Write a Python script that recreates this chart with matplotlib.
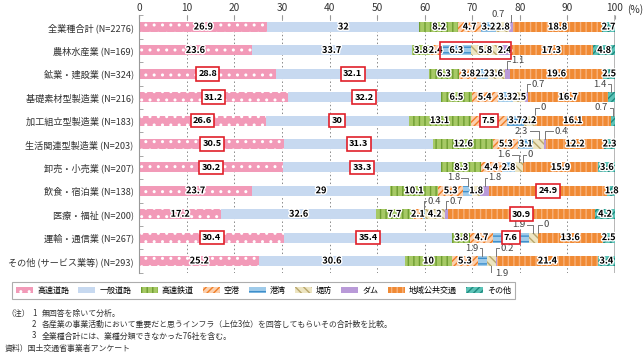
import numpy as np
import matplotlib
matplotlib.use('Agg')
import matplotlib.pyplot as plt
from matplotlib.patches import Patch, Rectangle
import matplotlib.patheffects as pe

plt.rcParams['font.family'] = ['Noto Sans CJK JP', 'DejaVu Sans']
plt.rcParams['hatch.linewidth'] = 1.0

# data
industries = ['全業種合計', '農林水産業', '鉱業・建設業', '基礎素材型製造業', '加工組立型製造業',
              '生活関連型製造業', '卸売・小売業', '飲食・宿泊業', '医療・福祉', '運輸・通信業',
              'その他 (サービス業等)']
n_counts = [2276, 169, 324, 216, 183, 203, 207, 138, 200, 267, 293]
series = ['高速道路', '一般道路', '高速鉄道', '空港', '港湾', '堤防', 'ダム', '地域公共交通', 'その他']

kousoku_douro = [26.9, 23.6, 28.8, 31.2, 26.6, 30.5, 30.2, 23.7, 17.2, 30.4, 25.2]
ippan_douro = [32, 33.7, 32.1, 32.2, 30, 31.3, 33.3, 29, 32.6, 35.4, 30.6]
kousoku_tetsudo = [8.2, 3.8, 6.3, 6.5, 13.1, 12.6, 8.3, 10.1, 7.7, 3.8, 10]
kuukou = [4.7, 2.4, 3.8, 5.4, 7.5, 5.3, 4.4, 5.3, 2.1, 4.7, 5.3]
kouwan = [3.2, 6.3, 2.2, 3.3, 3.7, 3.1, 2.8, 1.8, 0.4, 7.6, 1.9]
teibou = [2.8, 5.8, 3.6, 2.5, 2.2, 2.3, 1.6, 1.8, 4.2, 1.9, 1.9]
dam = [0.7, 2.4, 1.1, 0.7, 0, 0.4, 0, 1.8, 0.7, 0, 0.2]
chiiki_koukyou = [18.8, 17.3, 19.6, 16.7, 16.1, 12.2, 15.9, 24.9, 30.9, 13.6, 21.4]
sonota = [2.7, 4.8, 2.5, 1.4, 0.7, 2.3, 3.6, 1.8, 4.2, 2.5, 3.4]

values = np.array([kousoku_douro, ippan_douro, kousoku_tetsudo, kuukou, kouwan,
                   teibou, dam, chiiki_koukyou, sonota])

# (row, series index, side, offset)  small values labelled outside with a leader line
callouts = [(0, 6, 'L', -1.2), (2, 6, 'R', 0.9), (3, 6, 'R', 1.0), (3, 8, 'L', -1.0),
            (4, 6, 'R', 1.2), (4, 8, 'L', -1.0), (5, 5, 'L', -2.2), (5, 6, 'R', 2.0),
            (6, 5, 'L', -1.8), (6, 6, 'R', 1.0), (7, 4, 'L', -1.6), (7, 6, 'R', 0.8),
            (8, 4, 'R', 0.7), (8, 6, 'R', 0.7), (9, 5, 'L', -1.6), (9, 6, 'R', 1.2),
            (10, 4, 'L', -0.8), (10, 6, 'R', 0.9), (10, 5, 'B', 0.8)]
# red boxes around single labels
boxed = [(2, 0), (2, 1), (3, 0), (3, 1), (4, 0), (4, 1), (4, 3), (5, 0), (5, 1),
         (6, 0), (6, 1), (7, 7), (8, 7), (9, 0), (9, 1), (9, 4)]

styles = [
    dict(facecolor='#F29AB8', edgecolor='white', hatch='..'),
    dict(facecolor='#C7D9F0', edgecolor='#C7D9F0', hatch=None),
    dict(facecolor='#A6C965', edgecolor='#6F9E32', hatch='|||'),
    dict(facecolor='#FBD0AE', edgecolor='#F07E26', hatch='/////'),
    dict(facecolor='#9FCBEA', edgecolor='#3E8FCB', hatch='---'),
    dict(facecolor='#EDE5C2', edgecolor='#B9A76C', hatch='\\\\\\\\'),
    dict(facecolor='#B99AD8', edgecolor='#5B3B7A', hatch='.'),
    dict(facecolor='#F08A34', edgecolor='#F7B27C', hatch='|||'),
    dict(facecolor='#5CC3B7', edgecolor='#1F8A7F', hatch='/////'),
]

fig = plt.figure(figsize=(6.44, 3.57), dpi=100)
ax = fig.add_axes([139.3 / 644, 1 - 272.7 / 357, (615 - 139.3) / 644, (272.7 - 15.3) / 357])

rows = np.arange(len(industries))
bh = 0.42
for x in range(10, 100, 10):
    ax.axvline(x, color='#888888', lw=0.7, ls=(0, (1.5, 2.5)), zorder=0)
ax.axvline(100, color='#aaaaaa', lw=1.2, zorder=0)

lefts = np.zeros(len(industries))
for i, s in enumerate(series):
    st = styles[i]
    ax.barh(rows, values[i], left=lefts, height=bh, facecolor=st['facecolor'],
            edgecolor=st['edgecolor'], hatch=st['hatch'], linewidth=0, zorder=2)
    lefts = lefts + values[i]

starts = np.vstack([np.zeros(len(industries)), np.cumsum(values, axis=0)[:-1]])
outline = [pe.withStroke(linewidth=2, foreground='white')]
callout_set = {(r, s) for r, s, _, _ in callouts}

for r in rows:
    for s in range(len(series)):
        if (r, s) in callout_set:
            continue
        v = values[s, r]
        cx = starts[s, r] + v / 2
        lbl = ('%g' % v)
        if (r, s) in boxed:
            ax.text(cx, r, lbl, ha='center', va='center', fontsize=6.6, fontweight='bold',
                    zorder=5, bbox=dict(boxstyle='square,pad=0.25', fc='white', ec='#E0202A', lw=1.2))
        else:
            ax.text(cx, r, lbl, ha='center', va='center', fontsize=6.6, fontweight='bold',
                    zorder=5, path_effects=outline)

# group box on 農林水産業 (港湾〜ダム)
x0 = starts[4, 1] - 0.3
x1 = starts[7, 1] + 0.1
ax.add_patch(Rectangle((x0, 1 - 0.36), x1 - x0, 0.72, fill=False, ec='#E0202A', lw=1.2, zorder=6))

for r, s, side, off in callouts:
    v = values[s, r]
    cx = starts[s, r] + v / 2
    lbl = '%g' % v
    lc = '#777777'
    if side == 'B':
        yl = r + 0.55
        ax.plot([cx, cx, cx + off - 0.3], [r + bh / 2, yl, yl], color=lc, lw=0.7, zorder=4)
        ax.text(cx + off, yl, lbl, ha='left', va='center', fontsize=6.8, color='#444444')
        continue
    yl = r - 0.55
    if side == 'L':
        ax.plot([cx + off + 0.3, cx, cx], [yl, yl, r - bh / 2], color=lc, lw=0.7, zorder=4)
        ax.text(cx + off, yl, lbl, ha='right', va='center', fontsize=6.8, color='#444444')
    else:
        ax.plot([cx + off - 0.3, cx, cx], [yl, yl, r - bh / 2], color=lc, lw=0.7, zorder=4)
        ax.text(cx + off, yl, lbl, ha='left', va='center', fontsize=6.8, color='#444444')

ax.set_xlim(0, 100)
ax.set_ylim(len(industries) - 0.5, -0.5)
ax.xaxis.tick_top()
ax.set_xticks(range(0, 101, 10))
ax.tick_params(axis='x', direction='in', length=3, color='#999999', labelsize=7.3,
               labelcolor='#333333', pad=2)
ax.set_yticks(rows)
ax.set_yticklabels([f'{a} (N={b})' for a, b in zip(industries, n_counts)], fontsize=6.6, color='#333333')
ax.tick_params(axis='y', length=0, pad=4)
ax.set_yticks(np.arange(-0.5, len(industries) + 0.5, 1), minor=True)
ax.tick_params(axis='y', which='minor', direction='in', length=3, color='#999999')
for sp in ['top', 'right', 'bottom']:
    ax.spines[sp].set_visible(False)
ax.spines['left'].set_color('#999999')
ax.text(102.6, -0.5, '(%)', transform=ax.transData, fontsize=7.3, color='#333333',
        ha='left', va='bottom')

handles = [Patch(facecolor=st['facecolor'], edgecolor=st['edgecolor'], hatch=st['hatch'], linewidth=0)
           for st in styles]
leg = fig.legend(handles, series, loc='center', bbox_to_anchor=(263.5 / 644, 1 - 290.5 / 357), ncol=9,
                 fontsize=5.8, frameon=True, fancybox=False, edgecolor='#999999', handlelength=2.1,
                 handleheight=0.8, columnspacing=1.15, handletextpad=0.5, borderpad=0.5)
leg.get_frame().set_linewidth(0.8)

nc = '#333333'
fs = 5.7
fig.text(7 / 644, 1 - 313 / 357, '（注）', fontsize=fs, color=nc, va='center')
fig.text(32 / 644, 1 - 313 / 357, '1', fontsize=fs, color=nc, va='center')
fig.text(42 / 644, 1 - 313 / 357, '無回答を除いて分析。', fontsize=fs, color=nc, va='center')
fig.text(32 / 644, 1 - 324.5 / 357, '2', fontsize=fs, color=nc, va='center')
fig.text(42 / 644, 1 - 324.5 / 357, '各産業の事業活動において重要だと思うインフラ（上位3位）を回答してもらいその合計数を比較。',
         fontsize=fs, color=nc, va='center')
fig.text(32 / 644, 1 - 336 / 357, '3', fontsize=fs, color=nc, va='center')
fig.text(42 / 644, 1 - 336 / 357, '全業種合計には、業種分類できなかった76社を含む。', fontsize=fs, color=nc, va='center')
fig.text(5 / 644, 1 - 348 / 357, '資料）国土交通省事業者アンケート', fontsize=fs, color=nc, va='center')

fig.savefig('out.png', dpi=100)
